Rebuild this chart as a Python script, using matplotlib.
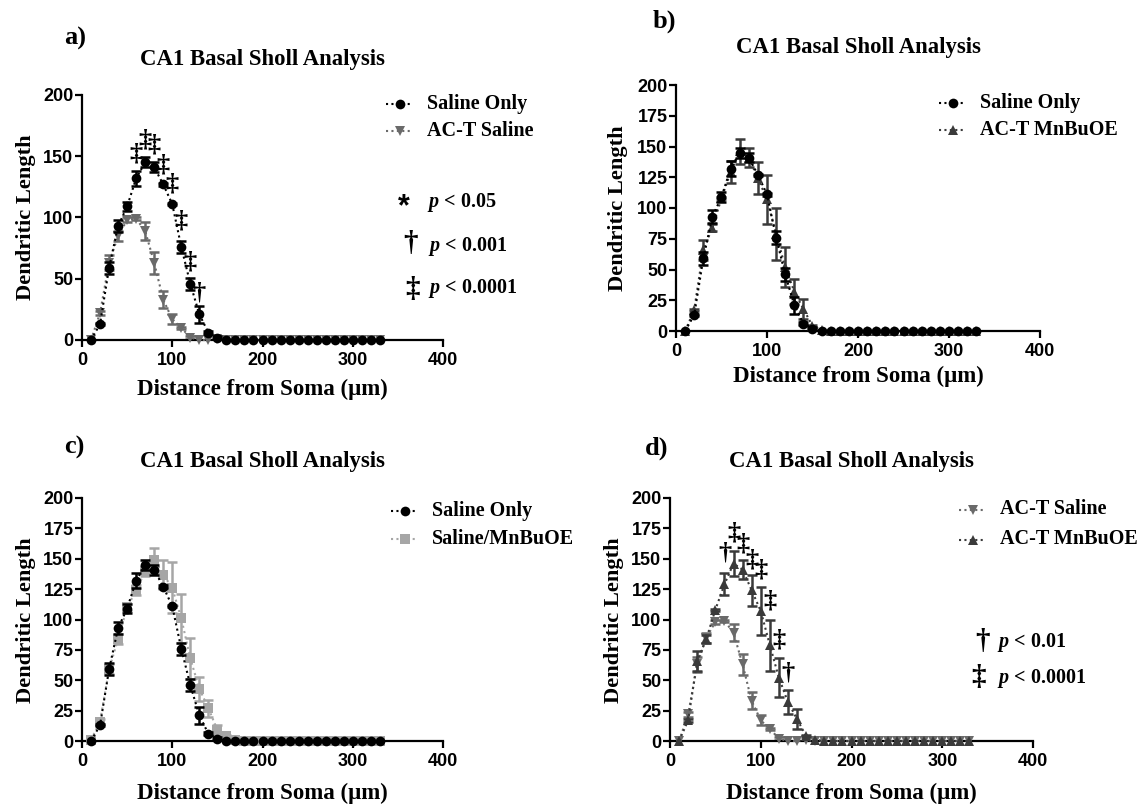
import matplotlib
matplotlib.use("Agg")
import matplotlib.pyplot as plt
from matplotlib.lines import Line2D
import numpy as np

plt.rcParams["font.family"] = "Liberation Sans"
plt.rcParams["font.weight"] = "bold"
plt.rcParams["mathtext.fontset"] = "custom"
plt.rcParams["mathtext.it"] = "Liberation Serif:italic:bold"
plt.rcParams["mathtext.rm"] = "Liberation Serif:bold"

# ---------------- data ----------------
distance = [10, 20, 30, 40, 50, 60, 70, 80, 90, 100, 110, 120, 130, 140, 150, 160,
            170, 180, 190, 200, 210, 220, 230, 240, 250, 260, 270, 280, 290, 300,
            310, 320, 330]

saline_only = [0, 13, 59, 93, 109, 132, 145, 141, 127, 111, 76, 46, 21, 6, 2, 0,
               0, 0, 0, 0, 0, 0, 0, 0, 0, 0, 0, 0, 0, 0, 0, 0, 0]
saline_only_err = [0, 1, 5, 5, 4, 6, 4, 4, 1, 1, 5, 5, 7, 1, 1, 0,
                   0, 0, 0, 0, 0, 0, 0, 0, 0, 0, 0, 0, 0, 0, 0, 0, 0]

act_saline = [0, 22, 63, 85, 98, 99, 89, 63, 33, 17, 10, 2, 0, 0, 1, 0,
              0, 0, 0, 0, 0, 0, 0, 0, 0, 0, 0, 0, 0, 0, 0, 0, 0]
act_saline_err = [0, 2, 6, 4, 2, 1, 7, 9, 7, 4, 1, 1, 0, 0, 0, 0,
                  0, 0, 0, 0, 0, 0, 0, 0, 0, 0, 0, 0, 0, 0, 0, 0, 0]

act_mnbuoe = [0, 17, 66, 84, 108, 129, 146, 141, 124, 107, 79, 52, 32, 18, 4, 1,
              0, 0, 0, 0, 0, 0, 0, 0, 0, 0, 0, 0, 0, 0, 0, 0, 0]
act_mnbuoe_err = [0, 1, 8, 3, 1, 9, 10, 8, 13, 20, 21, 16, 10, 8, 1, 0,
                  0, 0, 0, 0, 0, 0, 0, 0, 0, 0, 0, 0, 0, 0, 0, 0, 0]

saline_mnbuoe = [1, 16, 59, 84, 110, 124, 140, 149, 137, 126, 101, 68, 43, 27, 9, 4,
                 1, 0, 0, 0, 0, 0, 0, 0, 0, 0, 0, 0, 0, 0, 0, 0, 0]
saline_mnbuoe_err = [0, 2, 4, 4, 3, 4, 4, 10, 12, 21, 20, 17, 10, 7, 4, 1,
                     0, 0, 0, 0, 0, 0, 0, 0, 0, 0, 0, 0, 0, 0, 0, 0, 0]

sig_a_x = [60, 70, 80, 90, 100, 110, 120, 130]
sig_a_y = [152, 163, 159, 143, 127, 97, 64, 38]
sig_a_sym = ["‡", "‡", "‡", "‡", "‡", "‡", "‡", "†"]

sig_d_x = [60, 70, 80, 90, 100, 110, 120, 130]
sig_d_y = [155, 171, 162, 149, 141, 115, 83, 56]
sig_d_sym = ["†", "‡", "‡", "‡", "‡", "‡", "‡", "†"]

x_ticks = [0, 100, 200, 300, 400]
y_ticks_a = [0, 50, 100, 150, 200]
y_ticks = [0, 25, 50, 75, 100, 125, 150, 175, 200]

title = "CA1 Basal Sholl Analysis"
xlabel = "Distance from Soma (\u03bcm)"
ylabel = "Dendritic Length"

# ---------------- styles ----------------
C_SAL = "#000000"
C_ACTS = "#6a6a6a"
C_ACTM = "#3a3a3a"
C_SALM = "#a6a6a6"

series = {
    "Saline Only": (saline_only, saline_only_err, C_SAL, "o", 7.0),
    "AC-T Saline": (act_saline, act_saline_err, C_ACTS, "v", 7.5),
    "AC-T MnBuOE": (act_mnbuoe, act_mnbuoe_err, C_ACTM, "^", 7.5),
    "Saline/MnBuOE": (saline_mnbuoe, saline_mnbuoe_err, C_SALM, "s", 6.5),
}

W, H = 1137, 807
fig = plt.figure(figsize=(W / 100, H / 100), dpi=100)
SERIF = "Liberation Serif"
LEG_FS = 14.5


def fx(px):
    return px / W


def fy(py):
    return 1 - py / H


def make_axes(x0, yt, x1, yb, yt_list):
    ax = fig.add_axes([x0 / W, 1 - yb / H, (x1 - x0) / W, (yb - yt) / H])
    ax.set_xlim(0, 400)
    ax.set_ylim(0, 200)
    ax.set_xticks(x_ticks)
    ax.set_yticks(yt_list)
    for s in ("top", "right"):
        ax.spines[s].set_visible(False)
    for s in ("left", "bottom"):
        ax.spines[s].set_linewidth(1.6)
    ax.tick_params(width=1.6, length=4.7, labelsize=13, pad=1.5)
    ax.tick_params(axis="x", pad=4)
    for lab in ax.get_xticklabels() + ax.get_yticklabels():
        lab.set_fontweight("bold")
    return ax


def draw_series(ax, name, z=3):
    y, e, c, m, ms = series[name]
    xa = np.array(distance)
    ya = np.array(y, dtype=float)
    ea = np.array(e, dtype=float)
    mask = ea > 0
    ax.plot(xa, ya, ls=(0, (1, 1.6)), lw=1.5, color=c, marker=m, ms=ms,
            markeredgewidth=0, clip_on=False, zorder=z)
    ax.errorbar(xa[mask], ya[mask], yerr=ea[mask], fmt="none", ecolor=c,
                elinewidth=1.8, capsize=3.6, capthick=1.8, clip_on=False,
                zorder=z - 0.5)


def legend_entry(px, py, name):
    y, e, c, m, ms = series[name]
    fig.add_artist(Line2D([fx(px - 14), fx(px + 12)], [fy(py), fy(py)],
                          ls=(0, (1, 1.6)), lw=1.5, color=c,
                          transform=fig.transFigure))
    fig.add_artist(Line2D([fx(px)], [fy(py)], marker=m, ms=ms, color=c,
                          markeredgewidth=0, transform=fig.transFigure))
    fig.text(fx(px + 27), fy(py), name, family=SERIF, weight="bold",
             fontsize=LEG_FS, va="center", ha="left")


def panel_text(letter, lpos, tpos, ypos, xpos):
    fig.text(fx(lpos[0]), fy(lpos[1]), letter, family=SERIF, weight="bold",
             fontsize=19, ha="center", va="center")
    fig.text(fx(tpos[0]), fy(tpos[1]), title, family=SERIF, weight="bold",
             fontsize=16.4, ha="center", va="center")
    fig.text(fx(ypos[0]), fy(ypos[1]), ylabel, family=SERIF, weight="bold",
             fontsize=16.2, ha="center", va="center", rotation=90)
    fig.text(fx(xpos[0]), fy(xpos[1]), xlabel, family=SERIF, weight="bold",
             fontsize=16.5, ha="center", va="center")


def sig_marks(ax, xs, ys, syms):
    for xv, yv, s in zip(xs, ys, syms):
        ax.text(xv, yv, s, family=SERIF, weight="bold", fontsize=19,
                ha="center", va="center", color="black", zorder=5)


def p_note(sym, spx, spy, tpx, tpy, txt, sym_family=SERIF, sym_fs=21):
    fig.text(fx(spx), fy(spy), sym, family=sym_family, weight="bold",
             fontsize=sym_fs, ha="center", va="center")
    fig.text(fx(tpx), fy(tpy), txt, family=SERIF, weight="bold",
             fontsize=LEG_FS, ha="left", va="center")


# ---- panel a ----
ax_a = make_axes(82, 95, 443, 340, y_ticks_a)
draw_series(ax_a, "AC-T Saline", z=3)
draw_series(ax_a, "Saline Only", z=4)
sig_marks(ax_a, sig_a_x, sig_a_y, sig_a_sym)
panel_text("a)", (75, 38), (262.5, 59), (26, 217), (262.5, 389))
legend_entry(400, 104, "Saline Only")
legend_entry(400, 131, "AC-T Saline")
p_note("*", 404, 207, 427, 203, "$p$ < 0.05", "Liberation Sans", 22)
p_note("†", 410, 243, 428, 246, "$p$ < 0.001")
p_note("‡", 412, 290, 428, 288, "$p$ < 0.0001")

# ---- panel b ----
ax_b = make_axes(676, 85, 1040, 331, y_ticks)
draw_series(ax_b, "AC-T MnBuOE", z=3)
draw_series(ax_b, "Saline Only", z=4)
panel_text("b)", (664, 21), (858, 47.5), (618, 208), (858, 376))
legend_entry(953, 103, "Saline Only")
legend_entry(953, 130, "AC-T MnBuOE")

# ---- panel c ----
ax_c = make_axes(82, 498, 443, 741, y_ticks)
draw_series(ax_c, "Saline/MnBuOE", z=3)
draw_series(ax_c, "Saline Only", z=4)
panel_text("c)", (74, 447), (262.5, 461), (26, 620), (262.5, 793))
legend_entry(405, 511, "Saline Only")
legend_entry(405, 539, "Saline/MnBuOE")

# ---- panel d ----
ax_d = make_axes(670, 498, 1033, 741, y_ticks)
draw_series(ax_d, "AC-T Saline", z=3)
draw_series(ax_d, "AC-T MnBuOE", z=4)
sig_marks(ax_d, sig_d_x, sig_d_y, sig_d_sym)
panel_text("d)", (657, 448), (851.5, 461), (614, 620), (851.5, 793))
legend_entry(973, 509.5, "AC-T Saline")
legend_entry(973, 539.5, "AC-T MnBuOE")
p_note("†", 982, 641, 997, 642, "$p$ < 0.01")
p_note("‡", 979, 678, 997, 678, "$p$ < 0.0001")

fig.savefig("out.png", dpi=100)
